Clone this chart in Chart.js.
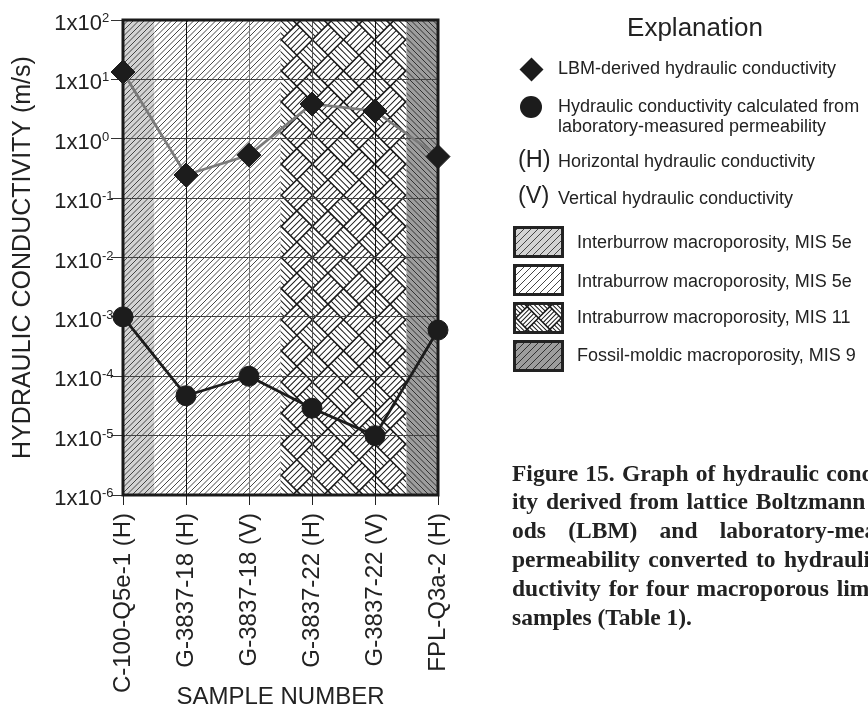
<!DOCTYPE html>
<html>
<head>
<meta charset="utf-8">
<script src="https://cdn.jsdelivr.net/npm/chart.js@4.4.1/dist/chart.umd.min.js"></script>
<style>
html,body{margin:0;padding:0;background:#fff;overflow:hidden;width:868px;height:708px;}
#wrap{position:relative;width:868px;height:708px;overflow:hidden;}
#c{position:absolute;left:0;top:0;}
.t{position:absolute;font-family:"Liberation Sans",Arial,sans-serif;color:#222;white-space:nowrap;line-height:1;font-size:18px;}
.sw{position:absolute;}
.cap{position:absolute;left:512px;width:420px;font-family:"Liberation Serif","Times New Roman",serif;font-weight:bold;font-size:23.5px;line-height:28.8px;color:#222;}
.cap div{text-align:justify;text-align-last:justify;}
.cap div.last{text-align:left;text-align-last:left;}
</style>
</head>
<body>
<div id="wrap">
<canvas id="c" width="868" height="708"></canvas>

<div class="t" style="left:595px;width:200px;text-align:center;top:14px;font-size:26px;">Explanation</div>

<div style="position:absolute;left:522.5px;top:60.5px;width:17px;height:17px;background:#1c1c1c;transform:rotate(45deg);"></div>
<div class="t" style="left:558px;top:58.8px;">LBM-derived hydraulic conductivity</div>

<div style="position:absolute;left:520px;top:95.5px;width:22px;height:22px;border-radius:50%;background:#1c1c1c;"></div>
<div class="t" style="left:558px;top:95.5px;line-height:20px;">Hydraulic conductivity calculated from<br>laboratory-measured permeability</div>

<div class="t" style="left:518px;top:148.1px;font-size:23.5px;">(H)</div>
<div class="t" style="left:558px;top:152px;">Horizontal hydraulic conductivity</div>
<div class="t" style="left:518px;top:184.4px;font-size:23.5px;">(V)</div>
<div class="t" style="left:558px;top:189px;">Vertical hydraulic conductivity</div>

<canvas class="sw" id="sw0" width="51" height="32" style="left:513px;top:226px;"></canvas>
<canvas class="sw" id="sw1" width="51" height="32" style="left:513px;top:264px;"></canvas>
<canvas class="sw" id="sw2" width="51" height="32" style="left:513px;top:302px;"></canvas>
<canvas class="sw" id="sw3" width="51" height="32" style="left:513px;top:340px;"></canvas>
<div class="t" id="lz0" style="left:577px;top:232.5px;"></div>
<div class="t" id="lz1" style="left:577px;top:271.5px;"></div>
<div class="t" id="lz2" style="left:577px;top:308px;"></div>
<div class="t" id="lz3" style="left:577px;top:345.8px;"></div>

<div class="cap" style="top:458.7px;">
<div>Figure 15. Graph of hydraulic conductiv-</div>
<div>ity derived from lattice Boltzmann meth-</div>
<div>ods (LBM) and laboratory-measured</div>
<div>permeability converted to hydraulic con-</div>
<div>ductivity for four macroporous limestone</div>
<div class="last">samples (Table 1).</div>
</div>
</div>

<script>
// ---------------- data ----------------
const categories = ['C-100-Q5e-1 (H)', 'G-3837-18 (H)', 'G-3837-18 (V)', 'G-3837-22 (H)', 'G-3837-22 (V)', 'FPL-Q3a-2 (H)'];
const lbmConductivity = [13.3, 0.245, 0.53, 3.85, 2.93, 0.5];
const labConductivity = [1.0e-3, 4.7e-5, 1.0e-4, 2.9e-5, 1.0e-5, 6.0e-4];
const yTickExponents = [2, 1, 0, -1, -2, -3, -4, -5, -6];
const zoneNames = ['Interburrow macroporosity, MIS 5e', 'Intraburrow macroporosity, MIS 5e', 'Intraburrow macroporosity, MIS 11', 'Fossil-moldic macroporosity, MIS 9'];
const zoneStart = [0, 0.5, 2.5, 4.5];
const zoneEnd = [0.5, 2.5, 4.5, 5];

const FONT = '"Liberation Sans", Arial, sans-serif';

// ---------------- pattern helpers ----------------
function hatch(ctx, x, y, w, h, sp, dir, color, lw) {
  ctx.save();
  ctx.beginPath(); ctx.rect(x, y, w, h); ctx.clip();
  ctx.strokeStyle = color; ctx.lineWidth = lw; ctx.beginPath();
  if (dir > 0) {
    const cMin = Math.floor((x + y) / sp) * sp, cMax = x + w + y + h;
    for (let c = cMin; c <= cMax + sp; c += sp) { ctx.moveTo(c - (y + h), y + h); ctx.lineTo(c - y, y); }
  } else {
    const cMin = Math.floor((x - y - h) / sp) * sp, cMax = x + w - y;
    for (let c = cMin; c <= cMax + sp; c += sp) { ctx.moveTo(c + y, y); ctx.lineTo(c + y + h, y + h); }
  }
  ctx.stroke(); ctx.restore();
}
function basketWeave(ctx, x, y, w, h, S, n) {
  ctx.save();
  ctx.beginPath(); ctx.rect(x, y, w, h); ctx.clip();
  ctx.fillStyle = '#fff'; ctx.fillRect(x, y, w, h);
  ctx.translate(x + w / 2, y + h / 2); ctx.rotate(Math.PI / 4);
  const R = Math.hypot(w, h) / 2 + S;
  const N = Math.ceil(R / S);
  ctx.strokeStyle = '#1a1a1a';
  for (let i = -N; i < N; i++) for (let j = -N; j < N; j++) {
    const u = i * S, v = j * S;
    const horiz = ((i + j) & 1) === 0;
    ctx.lineWidth = 1.0; ctx.beginPath();
    for (let k = 1; k < n; k++) {
      if (horiz) { ctx.moveTo(u, v + k * S / n); ctx.lineTo(u + S, v + k * S / n); }
      else { ctx.moveTo(u + k * S / n, v); ctx.lineTo(u + k * S / n, v + S); }
    }
    ctx.stroke();
    ctx.lineWidth = 1.6; ctx.beginPath();
    if (horiz) { ctx.moveTo(u, v); ctx.lineTo(u + S, v); ctx.moveTo(u, v + S); ctx.lineTo(u + S, v + S); }
    else { ctx.moveTo(u, v); ctx.lineTo(u, v + S); ctx.moveTo(u + S, v); ctx.lineTo(u + S, v + S); }
    ctx.stroke();
  }
  ctx.restore();
}
function drawZone(ctx, type, x, y, w, h, legend) {
  if (type === 0) {
    ctx.fillStyle = '#d3d3d3'; ctx.fillRect(x, y, w, h);
    hatch(ctx, x, y, w, h, legend ? 7 : 5.5, 1, '#333', 0.9);
  } else if (type === 1) {
    ctx.fillStyle = '#fff'; ctx.fillRect(x, y, w, h);
    hatch(ctx, x, y, w, h, legend ? 7 : 5.5, 1, '#333', 0.9);
  } else if (type === 2) {
    basketWeave(ctx, x, y, w, h, legend ? 16 : 22, 5);
  } else {
    ctx.fillStyle = '#9d9d9d'; ctx.fillRect(x, y, w, h);
    hatch(ctx, x, y, w, h, legend ? 7 : 5.5, legend ? 1 : -1, '#262626', 0.9);
  }
}

// ---------------- legend swatches ----------------
zoneNames.forEach((name, i) => {
  document.getElementById('lz' + i).textContent = name;
  const cv = document.getElementById('sw' + i);
  const c = cv.getContext('2d');
  drawZone(c, i, 0, 0, cv.width, cv.height, true);
  c.strokeStyle = '#222'; c.lineWidth = 3;
  c.strokeRect(1.5, 1.5, cv.width - 3, cv.height - 3);
});

// ---------------- plugins ----------------
const zonePlugin = {
  id: 'zones',
  beforeDraw(chart) {
    const { ctx, chartArea: a, scales: { x } } = chart;
    zoneStart.forEach((s, i) => {
      const x0 = x.getPixelForValue(s), x1 = x.getPixelForValue(zoneEnd[i]);
      drawZone(ctx, i, x0, a.top, x1 - x0, a.bottom - a.top, false);
    });
  }
};
const framePlugin = {
  id: 'frame',
  beforeDatasetsDraw(chart) {
    const { ctx, chartArea: a, scales: { y } } = chart;
    ctx.save();
    ctx.strokeStyle = '#1a1a1a'; ctx.lineWidth = 3;
    ctx.strokeRect(a.left, a.top, a.right - a.left, a.bottom - a.top);
    ctx.fillStyle = '#222';
    const xr = y.right - 21;
    yTickExponents.forEach(e => {
      const py = y.getPixelForValue(Math.pow(10, e));
      ctx.font = '22px ' + FONT; ctx.textAlign = 'right'; ctx.textBaseline = 'alphabetic';
      ctx.fillText('1x10', xr, py + 10);
      ctx.font = '13px ' + FONT; ctx.textAlign = 'left';
      ctx.fillText(String(e), xr, py + 2);
    });
    ctx.restore();
  }
};

const xGridColors = ['#222', '#111', '#777', '#555', '#111', '#222'];

new Chart(document.getElementById('c'), {
  type: 'line',
  data: {
    labels: categories,
    datasets: [
      {
        label: 'LBM-derived hydraulic conductivity',
        data: lbmConductivity,
        borderColor: '#7a7a7a', borderWidth: 2.7,
        pointStyle: 'rectRot', pointRadius: 12,
        pointBackgroundColor: '#1c1c1c', pointBorderColor: '#1c1c1c', pointBorderWidth: 1,
        clip: false, tension: 0
      },
      {
        label: 'Hydraulic conductivity calculated from laboratory-measured permeability',
        data: labConductivity,
        borderColor: '#1c1c1c', borderWidth: 2.8,
        pointStyle: 'circle', pointRadius: 10,
        pointBackgroundColor: '#1c1c1c', pointBorderColor: '#1c1c1c', pointBorderWidth: 1,
        clip: false, tension: 0
      }
    ]
  },
  options: {
    responsive: false, animation: false, devicePixelRatio: 1,
    layout: { padding: { left: 0, top: 20, right: 430, bottom: 0 } },
    plugins: { legend: { display: false }, tooltip: { enabled: false } },
    scales: {
      x: {
        type: 'category', offset: false,
        grid: { color: c => xGridColors[c.index] || '#333', lineWidth: 1, drawTicks: true, tickLength: 10, tickColor: '#222' },
        border: { display: false },
        ticks: { autoSkip: false, minRotation: 90, maxRotation: 90, padding: 8, color: '#222', font: { family: FONT, size: 24 } },
        title: { display: true, text: 'SAMPLE NUMBER', color: '#222', font: { family: FONT, size: 24, lineHeight: 0.9 }, padding: { top: 0, bottom: 0 } },
        afterFit(s) { s.height = 213; s.paddingLeft = 0; s.paddingRight = 0; }
      },
      y: {
        type: 'logarithmic', min: 1e-6, max: 1e2,
        afterBuildTicks(s) { s.ticks = yTickExponents.map(e => ({ value: Math.pow(10, e), major: true })); },
        ticks: { display: false },
        grid: { color: '#444', lineWidth: 1, drawTicks: true, tickLength: 12, tickColor: '#333' },
        border: { display: false },
        title: { display: true, text: 'HYDRAULIC CONDUCTIVITY (m/s)', color: '#222', font: { family: FONT, size: 25, lineHeight: 1.2 }, padding: { top: 8, bottom: 0 } },
        afterFit(s) { s.width = 123; s.paddingTop = 0; s.paddingBottom = 0; }
      }
    }
  },
  plugins: [zonePlugin, framePlugin]
});
</script>
</body>
</html>
